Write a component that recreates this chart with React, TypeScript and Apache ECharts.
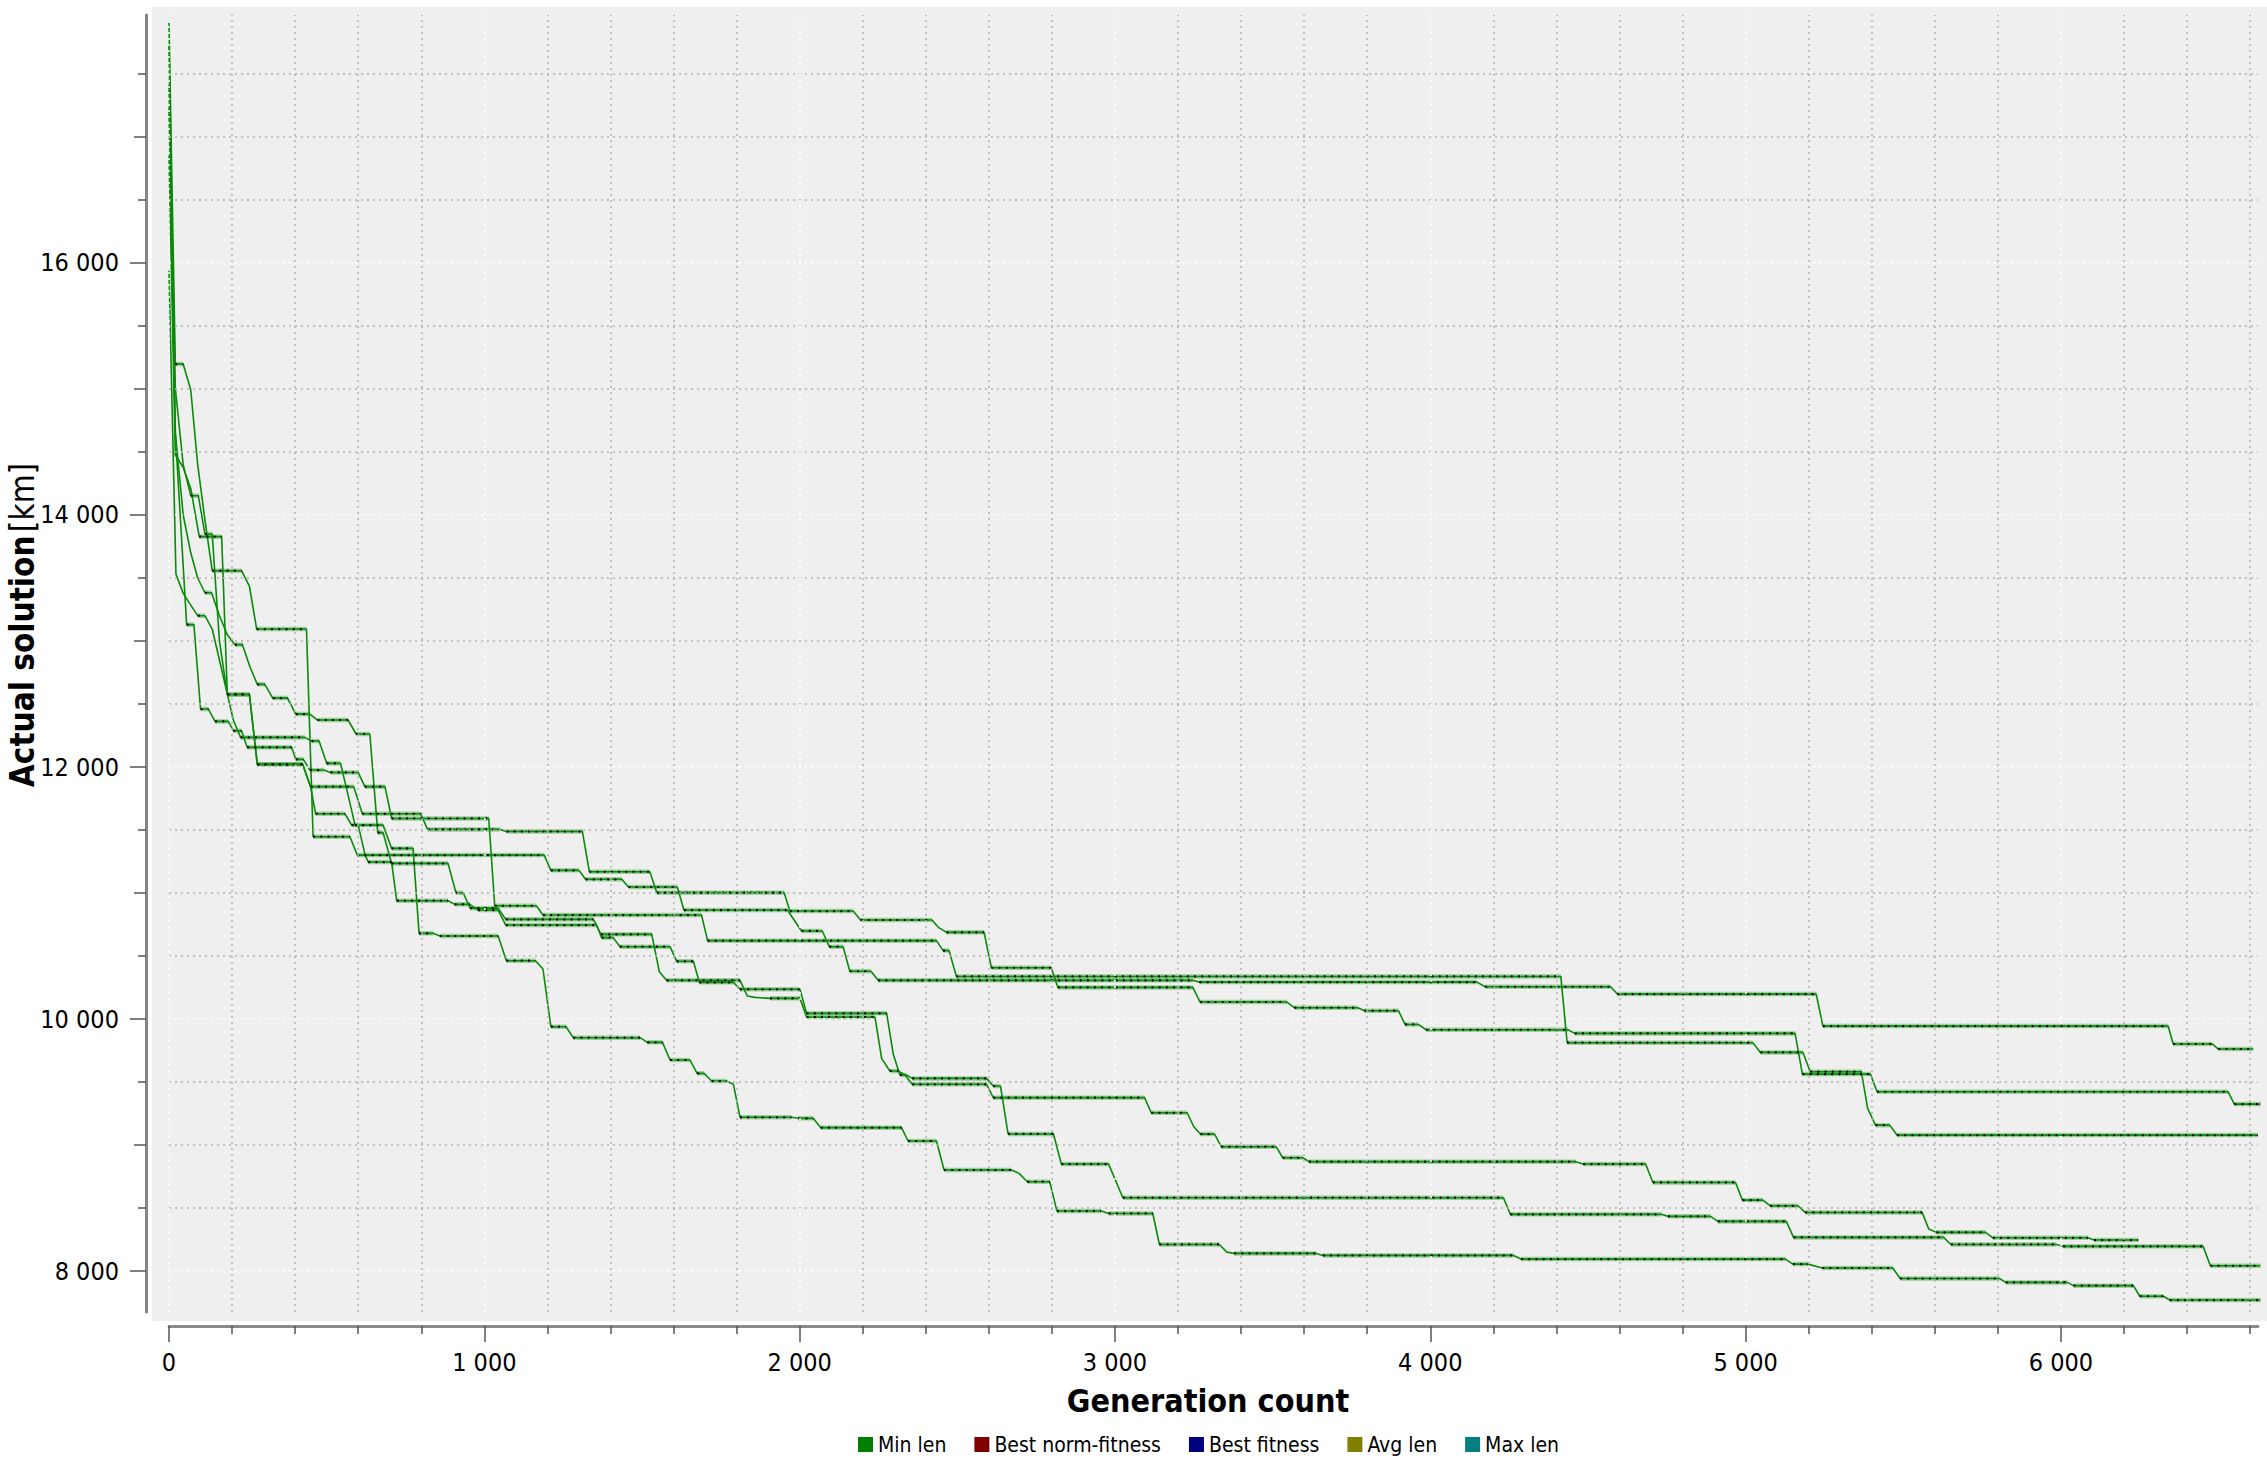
import React, { useEffect, useRef } from "react";
import * as echarts from "echarts";

// ---- Data: corner points [generation, min length km] of six GA runs ----
const run1: number[][] = [[0,17733],[20,14653],[56,13130],[79,13130],[100,12460],[125,12460],[146,12362],[188,12362],[204,12288],[230,12288],[248,12156],[389,12156],[402,12061],[426,12061],[447,11976],[491,11976],[512,11957],[600,11957],[621,11844],[685,11844],[706,11592],[1014,11592],[1033,10899],[1165,10899],[1186,10825],[1689,10825],[1708,10622],[2434,10622],[2455,10543],[2474,10543],[2497,10338],[4414,10338],[4434,9812],[5023,9812],[5047,9735],[5182,9735],[5205,9582],[5367,9582],[5387,9291],[5412,9158],[5457,9158],[5480,9079],[6624,9079]];
const run2: number[][] = [[0,17905],[20,15198],[45,15198],[69,14992],[91,14400],[114,13960],[137,13558],[230,13558],[255,13436],[278,13095],[436,13095],[457,11447],[574,11447],[597,11301],[1190,11301],[1211,11180],[1300,11180],[1321,11109],[1436,11109],[1457,11048],[1612,11048],[1633,10865],[1961,10865],[2006,10699],[2072,10699],[2094,10574],[2138,10574],[2159,10379],[2226,10379],[2249,10307],[3247,10307],[3268,10293],[4148,10293],[4174,10256],[4572,10256],[4593,10198],[5224,10198],[5245,9944],[6340,9944],[6356,9802],[6480,9802],[6499,9762],[6610,9762]];
const run3: number[][] = [[0,17415],[20,15008],[45,14400],[69,14153],[93,14153],[114,13849],[137,13849],[160,13000],[185,12576],[255,12576],[280,12021],[424,12021],[449,11844],[586,11844],[613,11629],[798,11629],[820,11505],[1049,11505],[1070,11489],[1311,11489],[1333,11169],[1525,11169],[1547,11003],[1951,11003],[1969,10857],[2170,10857],[2193,10786],[2420,10786],[2441,10725],[2466,10688],[2585,10688],[2608,10407],[2798,10407],[2819,10251],[3247,10251],[3270,10135],[3545,10135],[3569,10090],[3770,10090],[3791,10066],[3899,10066],[3920,9957],[3962,9957],[3987,9915],[4437,9915],[4458,9886],[5157,9886],[5180,9563],[5396,9563],[5417,9423],[6530,9423],[6550,9325],[6640,9325]];
const run4: number[][] = [[0,17232],[20,14653],[45,14000],[69,13700],[91,13500],[114,13383],[135,13383],[160,13200],[185,13050],[209,12971],[233,12971],[256,12800],[280,12656],[304,12656],[329,12547],[376,12547],[402,12420],[447,12420],[471,12373],[568,12373],[593,12262],[637,12262],[662,11479],[679,11479],[706,11235],[885,11235],[910,11002],[933,11002],[955,10880],[1044,10880],[1068,10791],[1346,10791],[1370,10672],[1531,10672],[1555,10376],[1578,10307],[1811,10307],[1834,10183],[1858,10172],[1906,10164],[2001,10164],[2022,10016],[2239,10016],[2260,9688],[2286,9588],[2313,9588],[2334,9556],[2357,9482],[2593,9482],[2614,9376],[3094,9376],[3115,9256],[3229,9256],[3250,9145],[3271,9087],[3316,9087],[3337,8987],[3511,8987],[3532,8899],[3596,8899],[3615,8868],[4461,8868],[4485,8849],[4683,8849],[4706,8703],[4968,8703],[4990,8563],[5055,8563],[5078,8518],[5166,8518],[5189,8465],[5560,8465],[5581,8333],[5605,8307],[5761,8307],[5784,8264],[6086,8264],[6105,8246],[6245,8246]];
const run5: number[][] = [[0,16852],[20,14476],[44,14383],[69,14211],[96,13828],[167,13828],[185,12576],[255,12576],[280,12021],[424,12021],[449,11844],[465,11629],[558,11629],[579,11539],[600,11539],[622,11301],[632,11246],[706,11246],[722,10939],[885,10939],[906,10910],[954,10910],[980,10865],[1044,10865],[1068,10746],[1356,10746],[1372,10646],[1409,10646],[1430,10574],[1589,10574],[1610,10458],[1663,10458],[1682,10291],[1790,10291],[1811,10236],[2001,10236],[2022,10045],[2276,10045],[2297,9720],[2318,9556],[2339,9556],[2357,9529],[2593,9529],[2614,9468],[2637,9468],[2661,9088],[2805,9088],[2830,8849],[2980,8849],[3025,8582],[4232,8582],[4254,8450],[4733,8450],[4754,8434],[4889,8434],[4912,8394],[5129,8394],[5152,8267],[5628,8267],[5651,8211],[5985,8211],[6007,8196],[6451,8196],[6474,8042],[6640,8042]];
const run6: number[][] = [[0,15939],[22,13532],[45,13378],[69,13285],[91,13201],[114,13201],[137,13095],[160,12849],[182,12611],[204,12373],[227,12235],[431,12235],[452,12206],[476,12206],[500,12029],[544,12029],[568,11777],[590,11539],[679,11539],[706,11354],[774,11354],[793,10680],[838,10680],[859,10659],[1044,10659],[1070,10463],[1162,10463],[1186,10397],[1211,9939],[1259,9939],[1282,9852],[1494,9852],[1517,9815],[1565,9815],[1589,9675],[1652,9675],[1675,9569],[1697,9569],[1721,9508],[1768,9508],[1790,9482],[1811,9220],[1974,9220],[1996,9212],[2043,9212],[2067,9138],[2323,9138],[2344,9032],[2434,9032],[2458,8802],[2672,8802],[2696,8775],[2722,8709],[2793,8709],[2816,8476],[2956,8476],[2980,8457],[3120,8457],[3141,8211],[3331,8211],[3355,8150],[3378,8140],[3638,8140],[3659,8124],[4264,8124],[4288,8095],[5126,8095],[5150,8055],[5198,8055],[5243,8024],[5467,8024],[5490,7941],[5805,7941],[5825,7910],[6020,7910],[6040,7884],[6230,7884],[6250,7800],[6325,7800],[6345,7770],[6640,7770]];

const runs = [run1, run2, run3, run4, run5, run6];

const legendNames = ["Min len", "Best norm-fitness", "Best fitness", "Avg len", "Max len"];
const legendColors = ["#008000", "#800000", "#000080", "#808000", "#008080"];

const xMajorTicks = [0, 1000, 2000, 3000, 4000, 5000, 6000];
const xMinorTicks = [200,400,600,800,1200,1400,1600,1800,2200,2400,2600,2800,3200,3400,3600,3800,4200,4400,4600,4800,5200,5400,5600,5800,6200,6400,6600];
const yMajorTicks = [8000, 10000, 12000, 14000, 16000];
const yMidTicks = [9000, 11000, 13000, 15000, 17000];
const yMinorTicks = [8500, 9500, 10500, 11500, 12500, 13500, 14500, 15500, 16500, 17500];

const X_MIN = 0, X_MAX = 6625, Y_MIN = 7675, Y_MAX = 17968;

const FONT = "'DejaVu Sans Condensed', 'DejaVu Sans', sans-serif";
const fmt = (v: number) => String(v).replace(/\B(?=(\d{3})+(?!\d))/g, " ");

function flatParts(run: number[][]) {
  const out: (number | null)[][] = [];
  for (let i = 0; i < run.length - 1; i++) {
    const [x0, y0] = run[i];
    const [x1, y1] = run[i + 1];
    if (y0 === y1) {
      out.push([x0, y0], [x1, y1], [x1, null]);
    }
  }
  return out;
}

export default function App() {
  const ref = useRef<HTMLDivElement>(null);
  useEffect(() => {
    document.body.style.margin = "0";
    if (!ref.current) return;
    const chart = echarts.init(ref.current, null, { renderer: "svg" });

    const gray = { color: "#b4b4b4", width: 1.5, type: [2, 4] as any };
    const white = { color: "#ffffff", width: 1.5, type: [2, 4] as any };

    const gridMarks: any[] = [];
    xMinorTicks.forEach((v) => gridMarks.push({ xAxis: v, lineStyle: gray }));
    yMinorTicks.concat(yMidTicks).forEach((v) => gridMarks.push({ yAxis: v, lineStyle: gray }));
    xMajorTicks.forEach((v) => gridMarks.push({ xAxis: v, lineStyle: white }));
    yMajorTicks.forEach((v) => gridMarks.push({ yAxis: v, lineStyle: white }));

    const series: any[] = [
      {
        type: "line", name: "grid", data: [], z: 1, silent: true,
        markLine: { silent: true, symbol: ["none", "none"], label: { show: false }, animation: false, data: gridMarks },
      },
    ];
    runs.forEach((run, i) => {
      const flats = flatParts(run);
      series.push({
        type: "line", name: "halo" + i, data: flats, showSymbol: false, z: 2, silent: true,
        lineStyle: { color: "rgba(90,175,90,0.55)", width: 4.5 }, itemStyle: { color: "#008000" },
      });
      series.push({
        type: "line", name: "Min len", data: run, showSymbol: false, z: 3, silent: true,
        lineStyle: { color: "#0a8a0a", width: 1.6 }, itemStyle: { color: "#008000" },
      });
      series.push({
        type: "line", name: "dots" + i, data: flats, showSymbol: false, z: 4, silent: true,
        lineStyle: { color: "#111", width: 2.2, type: [2, 5.2] }, itemStyle: { color: "#000" },
      });
    });
    legendNames.slice(1).forEach((n, i) => {
      series.push({ type: "line", name: n, data: [], itemStyle: { color: legendColors[i + 1] }, lineStyle: { color: legendColors[i + 1] } });
    });

    const axisLine = { show: true, onZero: false, lineStyle: { color: "#858585", width: 2.5 } };
    const baseX = { type: "value", min: X_MIN, max: X_MAX, position: "bottom", offset: 14, axisLine, splitLine: { show: false } };
    const baseY = { type: "value", min: Y_MIN, max: Y_MAX, position: "left", offset: 23, axisLine, splitLine: { show: false } };

    chart.setOption({
      animation: false,
      backgroundColor: "#ffffff",
      grid: { left: 169, right: 9, top: 15, bottom: 151, containLabel: false },
      graphic: [
        { type: "rect", z: -10, shape: { x: 152, y: 7, width: 2267 - 152, height: 1321 - 7 }, style: { fill: "#efefef" }, silent: true },
        {
          type: "text", x: 1208, y: 1401, z: 10,
          style: { text: "Generation count", font: `bold 32px ${FONT}`, fill: "#000", align: "center", verticalAlign: "middle" },
        },
        {
          type: "text", x: 22, y: 625, rotation: Math.PI / 2, z: 10,
          style: {
            text: "{b|Actual solution} {n|[km]}", align: "center", verticalAlign: "middle", fill: "#000",
            rich: { b: { font: `bold 33px ${FONT}`, fill: "#000" }, n: { font: `33px ${FONT}`, fill: "#000" } },
          },
        },
      ],
      legend: {
        data: legendNames, bottom: 3, left: 853, icon: "rect", itemWidth: 15, itemHeight: 15, itemGap: 28,
        textStyle: { fontFamily: FONT, fontSize: 21, color: "#000" },
      },
      xAxis: [
        {
          ...baseX,
          axisTick: { show: true, length: 16, customValues: xMajorTicks, lineStyle: { color: "#555", width: 1.5 } },
          axisLabel: { show: true, customValues: xMajorTicks, formatter: (v: number) => fmt(v), margin: 24, fontFamily: FONT, fontSize: 25, color: "#000" },
        },
        {
          ...baseX,
          axisTick: { show: true, length: 8, customValues: xMinorTicks, lineStyle: { color: "#555", width: 1.5 } },
          axisLabel: { show: false },
        },
      ],
      yAxis: [
        {
          ...baseY,
          axisTick: { show: true, length: 16, customValues: yMajorTicks, lineStyle: { color: "#555", width: 1.5 } },
          axisLabel: { show: true, customValues: yMajorTicks, formatter: (v: number) => fmt(v), margin: 27, fontFamily: FONT, fontSize: 25, color: "#000" },
        },
        {
          ...baseY,
          axisTick: { show: true, length: 12, customValues: yMidTicks, lineStyle: { color: "#555", width: 1.5 } },
          axisLabel: { show: false },
        },
        {
          ...baseY,
          axisTick: { show: true, length: 8, customValues: yMinorTicks, lineStyle: { color: "#555", width: 1.5 } },
          axisLabel: { show: false },
        },
      ],
      series,
    });
    return () => chart.dispose();
  }, []);
  return <div ref={ref} style={{ width: 2267, height: 1463 }} />;
}
